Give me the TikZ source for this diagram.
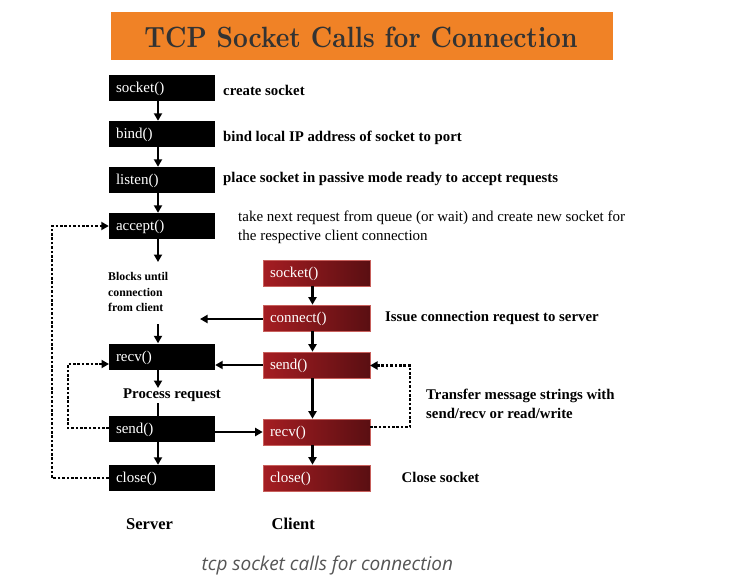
\documentclass[tikz,border=0pt]{standalone}
\usepackage{fontspec}
\setmainfont{Liberation Serif}
\newfontfamily\lmfont{lmroman10}[Extension=.otf,UprightFont=*-regular,BoldFont=*-bold]
\newfontfamily\capfont{Open Sans}
\usetikzlibrary{arrows.meta,calc}
\definecolor{titleor}{HTML}{F08226}
\definecolor{titletx}{HTML}{333333}
\definecolor{redL}{HTML}{A51D22}
\definecolor{redR}{HTML}{5A0F12}
\definecolor{redB}{HTML}{C8605C}
\definecolor{capgray}{HTML}{555555}
\tikzset{
  sbox/.style={fill=black, text=white, minimum width=106pt, minimum height=26pt,
    text width=92pt, inner xsep=7pt, inner ysep=0pt, align=left,
    text height=11.5pt, text depth=2.5pt,
    font=\fontsize{15}{16}\selectfont},
  cbox/.style={draw=redB, line width=0.6pt, left color=redL, right color=redR, text=white,
    minimum width=107pt, minimum height=26pt,
    text width=93pt, inner xsep=7pt, inner ysep=0pt, align=left,
    text height=11.5pt, text depth=2.5pt,
    font=\fontsize{15}{16}\selectfont},
  lbl/.style={anchor=west, inner sep=0pt, font=\fontsize{14.8}{17}\selectfont\bfseries},
  rlbl/.style={anchor=west, inner sep=0pt, align=left, font=\fontsize{15}{18.5}\selectfont},
  arr/.style={line width=2.2pt, -{Triangle[length=7.5pt,width=8pt]}},
  ln/.style={line width=2.2pt},
  dot/.style={line width=2.8pt, dash pattern=on 2.6pt off 1.8pt, -{Triangle[length=7.5pt,width=8pt]}},
}
\begin{document}
\begin{tikzpicture}[x=1pt,y=-1pt]
\useasboundingbox (0,0) rectangle (747,587);
% title
\fill[titleor] (111,12) rectangle (613,60);
\node[text=titletx, inner sep=0pt] (title) at (361,37) {\resizebox{433pt}{20.5pt}{\lmfont\bfseries TCP Socket Calls for Connection}};
% server boxes
\node[sbox] (ssock) at (162,88) {socket()};
\node[sbox] (sbind) at (162,134) {bind()};
\node[sbox] (slist) at (162,180) {listen()};
\node[sbox] (sacc) at (162,226) {accept()};
\node[sbox] (srecv) at (162,356.5) {recv()};
\node[sbox] (ssend) at (162,429) {send()};
\node[sbox] (sclose) at (162,478) {close()};
% client boxes
\node[cbox] (csock) at (316.5,273) {socket()};
\node[cbox] (cconn) at (316.5,318) {connect()};
\node[cbox] (csend) at (316.5,365) {send()};
\node[cbox] (crecv) at (316.5,432) {recv()};
\node[cbox] (cclose) at (316.5,478) {close()};
% labels
\node[lbl] (l1) at (223,90.5) {create socket};
\node[lbl] (l2) at (223,137.5) {bind local IP address of socket to port};
\node[lbl] (l3) at (223,179) {place socket in passive mode ready to accept requests};
\node[rlbl] (l4) at (238,227.5) {take next request from queue (or wait) and create new socket for\\the respective client connection};
\node[anchor=west, inner sep=0pt, align=left, font=\fontsize{11.8}{15.8}\selectfont\bfseries] (blk) at (108,292) {Blocks until\\connection\\from client};
\node[lbl] (l5) at (385,318) {Issue connection request to server};
\node[lbl, align=left, font=\fontsize{14.8}{18.4}\selectfont\bfseries] (l6) at (426,404) {Transfer message strings with\\send/recv or read/write};
\node[lbl] (l7) at (401.5,477.5) {Close socket};
\node[lbl] (proc) at (123,395.5) {Process request};
\node[lbl, font=\fontsize{16.5}{18}\selectfont\bfseries] (srv) at (126,524) {Server};
\node[lbl, font=\fontsize{16.5}{18}\selectfont\bfseries] (cli) at (271.5,524) {Client};
\node[anchor=west, inner sep=0pt, text=capgray, font=\fontsize{19}{22}\selectfont\capfont\itshape] (cap) at (201.5,566) {tcp socket calls for connection};
% server vertical arrows
\draw[arr] ([xshift=-4pt]ssock.south) -- ([xshift=-4pt]sbind.north);
\draw[arr] ([xshift=-4pt]sbind.south) -- ([xshift=-4pt]slist.north);
\draw[arr] ([xshift=-4pt]slist.south) -- ([xshift=-4pt]sacc.north);
\coordinate (accend) at (158,262);
\draw[arr] ([xshift=-4pt]sacc.south) -- (accend);
\coordinate (blkst) at (158,324);
\draw[arr] (blkst) -- ([xshift=-4pt]srecv.north);
\coordinate (procin) at (158,388);
\draw[arr] ([xshift=-4pt]srecv.south) -- (procin);
\coordinate (procout) at (158,403);
\draw[ln] (procout) -- ([xshift=-4pt]ssend.north);
\draw[arr] ([xshift=-4pt]ssend.south) -- ([xshift=-4pt]sclose.north);
% client vertical arrows
\draw[arr] ([xshift=-4pt]csock.south) -- ([xshift=-4pt]cconn.north);
\draw[arr] ([xshift=-4pt]cconn.south) -- ([xshift=-4pt]csend.north);
\draw[arr] ([xshift=-4pt]csend.south) -- ([xshift=-4pt]crecv.north);
\draw[arr] ([xshift=-4pt]crecv.south) -- ([xshift=-4pt]cclose.north);
% horizontal arrows
\coordinate (connend) at (200,319);
\draw[arr] (cconn.west |- connend) -- (connend);
\draw[arr] (csend.west) -- (csend.west -| srecv.east);
\draw[arr] (ssend.east |- crecv.west) -- (crecv.west);
% dotted loops
\draw[dot] (sclose.west) -- (52,478) -- (52,226) -- (sacc.west);
\draw[dot] (109,428) -- (68,428) -- (68,364) -- (109,364);
\draw[dot] (370,427) -- (410,427) -- (410,365.5) -- (370,365.5);
\end{tikzpicture}
\end{document}
